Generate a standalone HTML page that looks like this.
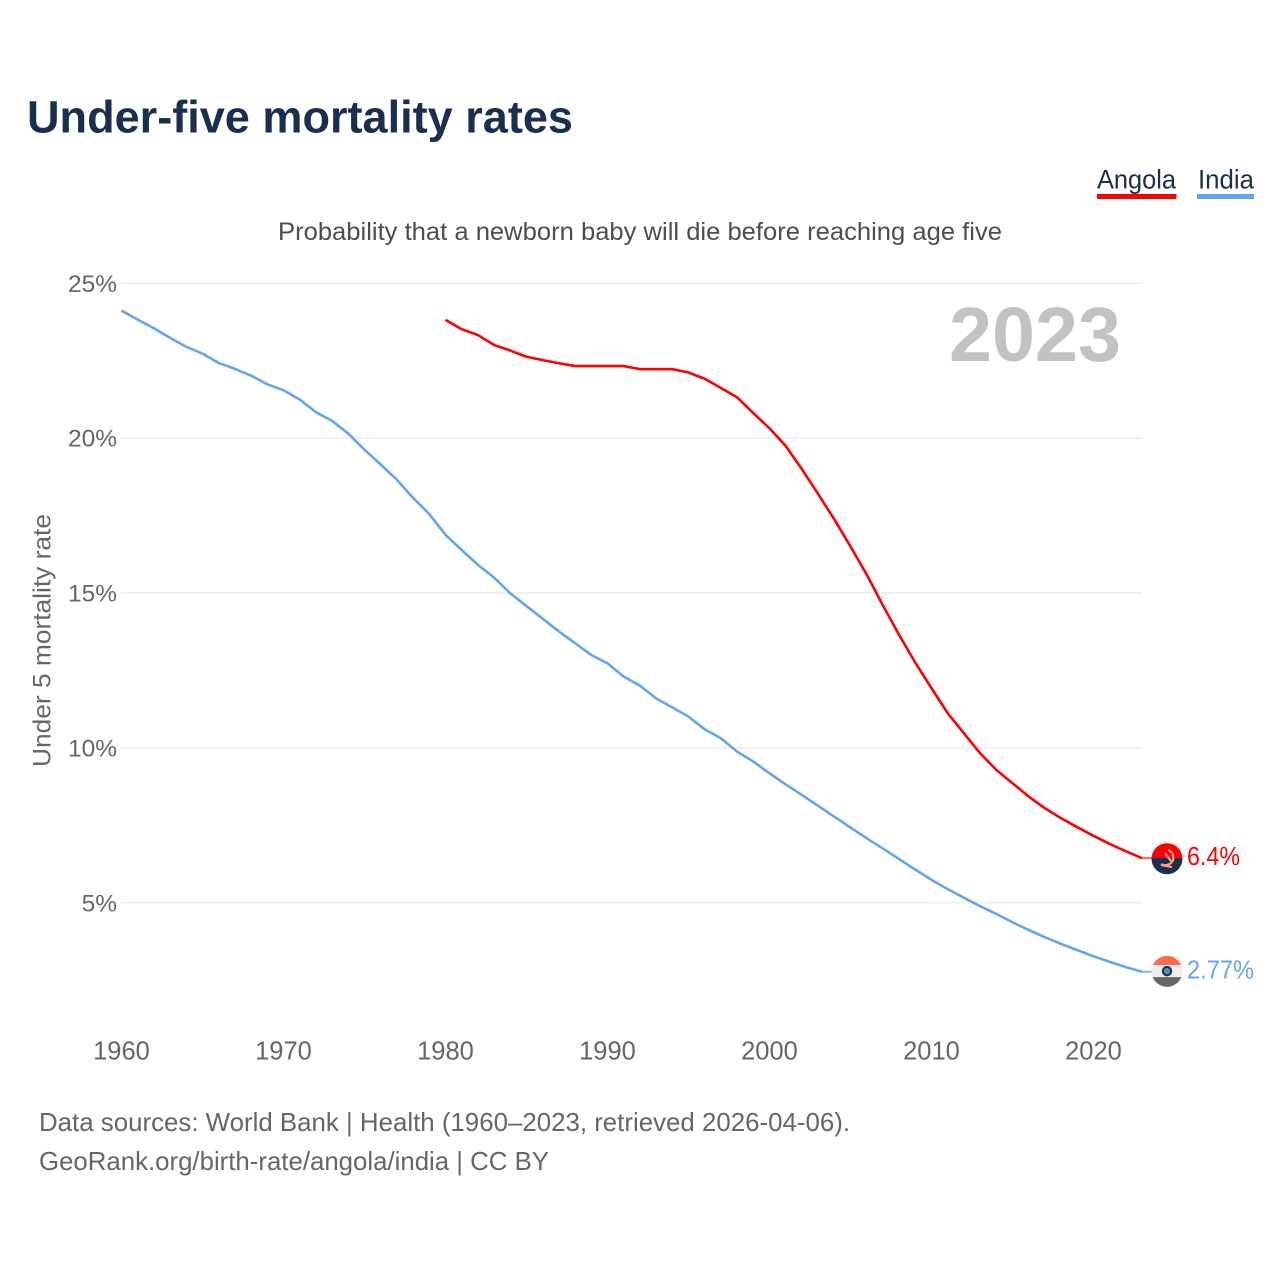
<!DOCTYPE html>
<html lang="en">
<head>
<meta charset="utf-8">
<title>Under-five mortality rates</title>
<style>
html,body{margin:0;padding:0;background:#fff;}
svg{display:block;}
text{font-family:"Liberation Sans",sans-serif;}
</style>
</head>
<body>
<svg id="chart" width="1280" height="1280" viewBox="0 0 1280 1280" xmlns="http://www.w3.org/2000/svg">
  <defs>
    <clipPath id="flag-clip-top"><circle id="clip-a" cx="1167" cy="858.7" r="15.5"/></clipPath>
    <clipPath id="flag-clip-bottom"><circle id="clip-b" cx="1167" cy="971.2" r="15.5"/></clipPath>
  </defs>
  <rect width="1280" height="1280" fill="#ffffff"/>
  <text x="27" y="132.5" font-size="45" font-weight="700" fill="#1a2e4f" textLength="546" lengthAdjust="spacingAndGlyphs">Under-five mortality rates</text>
  <text x="1097" y="188.5" font-size="27" fill="#1a2e4f" textLength="79" lengthAdjust="spacingAndGlyphs">Angola</text>
  <rect x="1097" y="194" width="79.5" height="5" fill="#ff0000"/>
  <text x="1198" y="188.5" font-size="27" fill="#1a2e4f" textLength="56" lengthAdjust="spacingAndGlyphs">India</text>
  <rect x="1197" y="194" width="57" height="5" fill="#62a6ec"/>
  <text x="278" y="240" font-size="25" fill="#4d4d4d" textLength="724" lengthAdjust="spacingAndGlyphs">Probability that a newborn baby will die before reaching age five</text>
  <text transform="translate(50.5,767) rotate(-90)" x="0" y="0" font-size="25" fill="#666666" textLength="253" lengthAdjust="spacingAndGlyphs">Under 5 mortality rate</text>
  <g id="grid"></g>
  <g id="yticks"></g>
  <g id="xticks"></g>
  <text x="949" y="361" font-size="77" font-weight="700" fill="#c2c2c2" textLength="172" lengthAdjust="spacingAndGlyphs">2023</text>
  <g id="series"></g>
  <g id="end-markers">
    <g clip-path="url(#flag-clip-top)">
      <g id="flag-angola">
        <rect x="1150" y="842" width="34" height="16" fill="#ff0000"/>
        <rect x="1150" y="858" width="34" height="18" fill="#1a2e4f"/>
        <path d="M1168 850 a8 8 0 0 1 4 12 a9 9 0 0 1 -11 2 M1165 853 l6 8 M1161 865 l11 2" fill="none" stroke="#ff9d85" stroke-width="2.2"/>
      </g>
    </g>
    <g clip-path="url(#flag-clip-bottom)">
      <g id="flag-india">
        <rect x="1150" y="955" width="34" height="10" fill="#ff6a4d"/>
        <rect x="1150" y="965" width="34" height="12" fill="#eeeeee"/>
        <rect x="1150" y="977" width="34" height="11" fill="#666666"/>
        <circle cx="1167" cy="971" r="4.2" fill="#5f88b5" stroke="#1a2e4f" stroke-width="2"/>
      </g>
    </g>
  </g>
  <text id="value-angola" x="1187" y="865" font-size="26" fill="#ff0000" textLength="53" lengthAdjust="spacingAndGlyphs">6.4%</text>
  <text id="value-india" x="1187" y="978" font-size="26" fill="#62a6ec" textLength="67" lengthAdjust="spacingAndGlyphs">2.77%</text>
  <text x="39" y="1131" font-size="26" fill="#666666" textLength="811" lengthAdjust="spacingAndGlyphs">Data sources: World Bank | Health (1960–2023, retrieved 2026-04-06).</text>
  <text x="39" y="1170" font-size="26" fill="#666666" textLength="510" lengthAdjust="spacingAndGlyphs">GeoRank.org/birth-rate/angola/india | CC BY</text>
</svg>
<script>
const indiaStartYear = 1960;
const angolaStartYear = 1980;
const indiaValues = [24.12,23.83,23.55,23.24,22.95,22.73,22.43,22.24,22.02,21.74,21.55,21.25,20.84,20.56,20.15,19.63,19.15,18.66,18.07,17.55,16.88,16.39,15.91,15.50,14.99,14.58,14.17,13.76,13.38,13.0,12.73,12.30,12.01,11.6,11.31,11.01,10.6,10.31,9.88,9.56,9.18,8.82,8.48,8.13,7.78,7.43,7.08,6.75,6.41,6.07,5.74,5.44,5.16,4.89,4.64,4.37,4.12,3.89,3.67,3.47,3.27,3.09,2.92,2.77];
const angolaValues = [23.82,23.52,23.33,23.01,22.83,22.63,22.52,22.42,22.33,22.33,22.33,22.33,22.23,22.23,22.23,22.12,21.92,21.62,21.32,20.81,20.32,19.75,19.0,18.2,17.38,16.5,15.6,14.6,13.65,12.75,11.93,11.12,10.47,9.83,9.29,8.86,8.43,8.05,7.73,7.44,7.16,6.9,6.66,6.44];
const endValueLabels = ["6.4%","2.77%"];
const yTickValues = [5,10,15,20,25];
const yTickLabels = ["5%","10%","15%","20%","25%"];
const xTickYears = [1960,1970,1980,1990,2000,2010,2020];

const NS = "http://www.w3.org/2000/svg";
function xScale(year){ return 121.5 + (year - 1960) * 16.2; }
function yScale(v){ return 1057.6 - v * 30.97; }
function make(tag, attrs, parent){
  const el = document.createElementNS(NS, tag);
  for (const k in attrs) el.setAttribute(k, attrs[k]);
  parent.appendChild(el);
  return el;
}
const gridG = document.getElementById("grid");
const yG = document.getElementById("yticks");
const xG = document.getElementById("xticks");
const seriesG = document.getElementById("series");
const RIGHT = xScale(2023);

yTickValues.forEach(function(v, i){
  const line = make("line", {x1:121, x2:RIGHT, y1:yScale(v), y2:yScale(v), stroke:"#eeeeee", "stroke-width":1.6}, gridG);
  
  
  const t = make("text", {x:117, y:yScale(v)+8.5, "text-anchor":"end", "font-size":24.5, fill:"#666666"}, yG);
  t.textContent = yTickLabels[i];
  
  
});
xTickYears.forEach(function(yr){
  const t = make("text", {x:xScale(yr), y:1059.5, "text-anchor":"middle", "font-size":25.5, fill:"#666666"}, xG);
  t.textContent = String(yr);
  
  
});
function linePath(values, start){
  return values.map(function(v, i){
    return (i ? "L" : "M") + xScale(start + i).toFixed(2) + " " + yScale(v).toFixed(2);
  }).join(" ");
}
const angolaLine = make("path", {d:linePath(angolaValues, angolaStartYear), fill:"none", stroke:"#ff0000", "stroke-width":2.6, "stroke-linejoin":"round"}, seriesG);


const indiaLine = make("path", {d:linePath(indiaValues, indiaStartYear), fill:"none", stroke:"#62a6ec", "stroke-width":2.6, "stroke-linejoin":"round"}, seriesG);



const aEnd = yScale(angolaValues[angolaValues.length - 1]);
const iEnd = yScale(indiaValues[indiaValues.length - 1]);
const aStub = make("line", {x1:RIGHT, x2:1153, y1:aEnd, y2:aEnd, stroke:"#ff5a4a", "stroke-width":2}, seriesG);


const iStub = make("line", {x1:RIGHT, x2:1153, y1:iEnd, y2:iEnd, stroke:"#8cbdf0", "stroke-width":2}, seriesG);



/* flags and value labels follow the last data point */
const aShift = aEnd + 0.6 - 858.7;
const iShift = iEnd - 0.5 - 971.2;
document.getElementById("clip-a").setAttribute("cy", 858.7 + aShift);
document.getElementById("clip-b").setAttribute("cy", 971.2 + iShift);
document.getElementById("flag-angola").setAttribute("transform", "translate(0," + aShift + ")");
document.getElementById("flag-india").setAttribute("transform", "translate(0," + iShift + ")");
document.getElementById("value-angola").setAttribute("y", aEnd + 7);
document.getElementById("value-india").setAttribute("y", iEnd + 6.5);
document.getElementById("value-angola").textContent = endValueLabels[0];
document.getElementById("value-india").textContent = endValueLabels[1];
</script>
</body>
</html>
